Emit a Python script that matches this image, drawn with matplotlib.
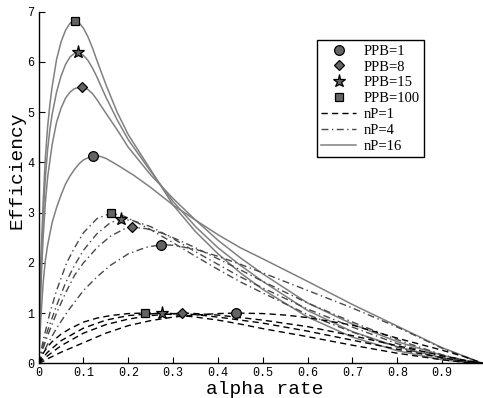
import numpy as np
import matplotlib
matplotlib.use("Agg")
import matplotlib.pyplot as plt
from matplotlib.lines import Line2D

# ---- data ----
# nP = 16 (solid grey)
a16_1 = [0, .005, .01, .015, .02, .03, .04, .05, .06, .07, .08, .09, .1, .12, .137, .15, .175, .211, .25, .3, .35, .4, .45, .5, .6, .7, .8, .9, .95, .99]
e16_1 = [0, .9, 1.6, 2.05, 2.35, 2.8, 3.1, 3.35, 3.57, 3.73, 3.86, 3.97, 4.05, 4.13, 4.12, 4.08, 3.95, 3.75, 3.5, 3.15, 2.85, 2.56, 2.3, 2.08, 1.63, 1.17, .74, .31, .14, 0]
a16_8 = [0, .005, .01, .015, .02, .03, .04, .05, .06, .07, .08, .096, .11, .12, .13, .15, .175, .2, .25, .3, .35, .4, .45, .5, .6, .7, .8, .9, .95, .99]
e16_8 = [0, 1.5, 2.5, 3.2, 3.7, 4.35, 4.8, 5.08, 5.28, 5.4, 5.47, 5.5, 5.45, 5.37, 5.25, 4.98, 4.65, 4.3, 3.75, 3.28, 2.85, 2.45, 2.1, 1.78, 1.2, .78, .43, .16, .06, 0]
a16_15 = [0, .005, .01, .015, .02, .025, .03, .04, .05, .06, .07, .08, .088, .1, .11, .12, .13, .15, .175, .2, .25, .3, .35, .4, .45, .5, .6, .7, .8, .9, .95, .99]
e16_15 = [0, 1.8, 2.9, 3.7, 4.25, 4.65, 4.95, 5.4, 5.72, 5.95, 6.1, 6.17, 6.19, 6.13, 6.03, 5.88, 5.7, 5.3, 4.85, 4.45, 3.82, 3.22, 2.72, 2.3, 1.95, 1.63, 1.05, .63, .33, .11, .04, 0]
a16_100 = [0, .005, .01, .015, .02, .025, .03, .04, .05, .06, .07, .08, .09, .1, .11, .12, .13, .15, .175, .2, .25, .3, .35, .4, .45, .5, .6, .7, .8, .9, .95, .99]
e16_100 = [0, 2.0, 3.2, 4.1, 4.7, 5.15, 5.5, 6.05, 6.4, 6.63, 6.77, 6.82, 6.78, 6.67, 6.5, 6.28, 6.03, 5.55, 5.0, 4.55, 3.85, 3.15, 2.62, 2.18, 1.8, 1.47, .92, .52, .25, .07, .02, 0]

# nP = 4 (dash-dot grey)
a4_1 = [0, .01, .02, .04, .066, .1, .13, .16, .2, .24, .273, .3, .35, .4, .45, .5, .6, .7, .8, .9, .95, .99]
e4_1 = [0, .2, .38, .7, 1.05, 1.45, 1.72, 1.95, 2.18, 2.31, 2.36, 2.35, 2.27, 2.13, 1.97, 1.8, 1.45, 1.1, .72, .3, .13, 0]
a4_8 = [0, .01, .02, .04, .06, .08, .1, .13, .16, .19, .208, .24, .28, .3, .35, .4, .45, .5, .6, .7, .8, .9, .95, .99]
e4_8 = [0, .3, .55, 1.0, 1.4, 1.75, 2.0, 2.3, 2.53, 2.67, 2.71, 2.68, 2.58, 2.5, 2.3, 2.08, 1.86, 1.63, 1.2, .82, .47, .17, .06, 0]
a4_15 = [0, .01, .02, .04, .06, .08, .1, .13, .16, .183, .21, .25, .3, .35, .4, .45, .5, .6, .7, .8, .9, .95, .99]
e4_15 = [0, .35, .65, 1.15, 1.6, 1.95, 2.25, 2.58, 2.8, 2.87, 2.84, 2.72, 2.48, 2.22, 1.97, 1.72, 1.5, 1.08, .72, .39, .13, .04, 0]
a4_100 = [0, .01, .025, .04, .0625, .08, .1, .13, .161, .19, .22, .25, .3, .35, .4, .45, .5, .6, .7, .8, .9, .95, .99]
e4_100 = [0, .45, 1.0, 1.45, 2.0, 2.3, 2.6, 2.88, 2.99, 2.93, 2.8, 2.66, 2.4, 2.13, 1.87, 1.62, 1.4, .97, .62, .32, .1, .03, 0]

# nP = 1 (dashed black)
a1_1 = [0, .01, .02, .05, .1, .15, .2, .25, .3, .35, .4, .44, .5, .55, .6, .7, .8, .9, .95, .99]
e1_1 = [0, .04, .09, .22, .41, .6, .75, .85, .92, .96, .99, 1.0, .99, .96, .91, .76, .5, .26, .13, 0]
a1_8 = [0, .01, .02, .05, .1, .15, .2, .25, .319, .35, .4, .5, .6, .7, .8, .9, .95, .99]
e1_8 = [0, .08, .15, .35, .6, .77, .88, .95, 1.0, .99, .96, .86, .73, .55, .35, .15, .06, 0]
a1_15 = [0, .01, .02, .05, .1, .15, .2, .2745, .3, .35, .4, .5, .6, .7, .8, .9, .95, .99]
e1_15 = [0, .12, .22, .45, .7, .86, .95, 1.0, .99, .97, .92, .8, .64, .46, .28, .11, .04, 0]
a1_100 = [0, .01, .02, .03, .05, .07, .1, .13, .16, .2, .2366, .25, .3, .35, .4, .45, .5, .6, .7, .8, .9, .95, .99]
e1_100 = [0, .2, .33, .43, .58, .69, .82, .9, .95, .99, 1.0, 1.0, .97, .92, .86, .78, .69, .53, .36, .2, .07, .02, 0]

# peak markers (PPB = 1, 8, 15, 100)
peak16_x = [0.1205, 0.096, 0.088, 0.080]
peak16_y = [4.13, 5.50, 6.19, 6.82]
peak4_x = [0.273, 0.208, 0.183, 0.161]
peak4_y = [2.36, 2.71, 2.87, 2.99]
peak1_x = [0.44, 0.319, 0.2745, 0.2366]
peak1_y = [1.0, 1.0, 1.0, 1.0]

ppb_labels = ['PPB=1', 'PPB=8', 'PPB=15', 'PPB=100']
np_labels = ['nP=1', 'nP=4', 'nP=16']

markers = ['o', 'D', '*', 's']
msizes = [7, 5.5, 9.5, 5.5]
mface = '#646464'

plt.rcParams['font.family'] = 'Liberation Mono'
fig = plt.figure(figsize=(4.83, 3.98), dpi=100)
ax = fig.add_axes([0.080, 0.0872, 0.919, 0.8834])

solid_kw = dict(color='#808080', lw=1.1, ls='-')
dd_kw = dict(color='#484848', lw=1.0, ls=(0, (5, 2.5, 1, 2.5)))
dash_kw = dict(color='black', lw=1.0, ls=(0, (4.5, 3)))

for a, e in [(a16_1, e16_1), (a16_8, e16_8), (a16_15, e16_15), (a16_100, e16_100)]:
    ax.plot(a, e, **solid_kw)
for a, e in [(a4_1, e4_1), (a4_8, e4_8), (a4_15, e4_15), (a4_100, e4_100)]:
    ax.plot(a, e, **dd_kw)
for a, e in [(a1_1, e1_1), (a1_8, e1_8), (a1_15, e1_15), (a1_100, e1_100)]:
    ax.plot(a, e, **dash_kw)

for px, py in [(peak16_x, peak16_y), (peak4_x, peak4_y), (peak1_x, peak1_y)]:
    for i in range(4):
        ax.plot(px[i], py[i], marker=markers[i], ms=msizes[i], mfc=mface,
                mec='black', mew=0.9, ls='none', zorder=5)

ax.set_xlim(0, 0.99)
ax.set_ylim(0, 7)
ax.set_xticks(np.arange(0, 1.0, 0.1))
ax.set_xticklabels(['0'] + ['%.1f' % v for v in np.arange(0.1, 1.0, 0.1)])
ax.set_yticks(range(8))
ax.tick_params(direction='in', length=4, width=0.8, labelsize=8.5, pad=3)
for s in ['top', 'right']:
    ax.spines[s].set_visible(False)
for s in ['left', 'bottom']:
    ax.spines[s].set_linewidth(1.0)

ax.set_xlabel('alpha rate', fontsize=14)
ax.set_ylabel('Efficiency', fontsize=14)
ax.xaxis.set_label_coords(0.51, -0.05)
ax.yaxis.set_label_coords(-0.03, 0.548)

handles = []
for i in range(4):
    handles.append(Line2D([], [], marker=markers[i], ms=msizes[i], mfc=mface,
                          mec='black', mew=0.9, ls='none'))
handles.append(Line2D([], [], **dash_kw))
handles.append(Line2D([], [], **dd_kw))
handles.append(Line2D([], [], **solid_kw))
leg = ax.legend(handles, ppb_labels + np_labels, loc='upper left',
                bbox_to_anchor=(0.61, 0.94), prop={'family': 'Liberation Serif', 'size': 10.5},
                frameon=True, fancybox=False, edgecolor='black', framealpha=1,
                handlelength=2.4, handletextpad=0.5, labelspacing=0.18,
                borderpad=0.3, numpoints=1)
leg.get_frame().set_linewidth(1.0)

fig.savefig('out.png', dpi=100)
